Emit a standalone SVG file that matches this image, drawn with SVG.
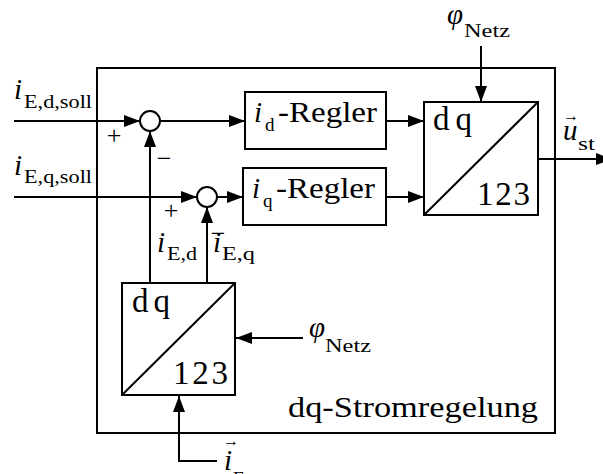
<svg xmlns="http://www.w3.org/2000/svg" width="603" height="474" viewBox="0 0 603 474">
<style>
  .ln { fill: none; stroke: #000; stroke-width: 2; }
  .bx { fill: #fff; stroke: #000; stroke-width: 2; }
  .ar { fill: none; stroke: #000; stroke-width: 2; marker-end: url(#ah); }
  text { font-family: "Liberation Serif", "DejaVu Serif", serif; fill: #000; }
  .m { font-size: 29px; }
  .it { font-style: italic; }
  .s { font-size: 19px; }
  .big { font-size: 33px; }
  .sg { font-size: 26px; }
  .vec { font-size: 16px; }
</style>
<defs>
  <marker id="ah" viewBox="0 0 16 12" refX="16" refY="6" markerWidth="16" markerHeight="12" markerUnits="userSpaceOnUse" orient="auto">
    <path d="M0,0 L16,6 L0,12 z" fill="#000"/>
  </marker>
</defs>
<rect width="603" height="474" fill="#fff"/>

<g id="frame">
  <rect x="97" y="68" width="458" height="365" class="ln"/>
  <text class="m" x="288" y="417" textLength="250" lengthAdjust="spacingAndGlyphs">dq-Stromregelung</text>
</g>

<g id="connectors">
  <path class="ar" d="M14,121 H140"/>
  <path class="ar" d="M14,197 H197"/>
  <path class="ar" d="M160,121 H245"/>
  <path class="ar" d="M217,197 H243"/>
  <path class="ar" d="M386,121 H424"/>
  <path class="ar" d="M386,197 H424"/>
  <path class="ar" d="M481,46 V102"/>
  <path class="ar" d="M538,159 H612"/>
  <path class="ar" d="M150,283 V131"/>
  <path class="ar" d="M207,283 V207"/>
  <path class="ar" d="M303,338 H236"/>
  <path class="ar" d="M217,461 H179 V396"/>
</g>

<g id="sum1">
  <circle cx="150" cy="121" r="10" class="bx"/>
  <text class="sg" x="114" y="144" text-anchor="middle">+</text>
  <text class="sg" x="164" y="167" text-anchor="middle">−</text>
</g>

<g id="sum2">
  <circle cx="207" cy="197" r="10" class="bx"/>
  <text class="sg" x="171" y="219" text-anchor="middle">+</text>
  <text class="sg" x="218" y="242" text-anchor="middle">−</text>
</g>

<g id="regler_d">
  <rect x="245" y="92" width="141" height="57" class="bx"/>
  <text class="m it" x="254" y="122">i</text>
  <text class="s" x="265" y="131">d</text>
  <text class="m" x="278" y="122" textLength="99" lengthAdjust="spacingAndGlyphs">-Regler</text>
</g>

<g id="regler_q">
  <rect x="243" y="168" width="143" height="57" class="bx"/>
  <text class="m it" x="252" y="198">i</text>
  <text class="s" x="263" y="207">q</text>
  <text class="m" x="276" y="198" textLength="99" lengthAdjust="spacingAndGlyphs">-Regler</text>
</g>

<g id="dq123_top">
  <rect x="424" y="102" width="114" height="113" class="bx"/>
  <path class="ln" d="M424,215 L538,102"/>
  <text class="big" x="433" y="130" textLength="39">dq</text>
  <text class="big" x="477" y="205" textLength="53">123</text>
</g>

<g id="dq123_bottom">
  <rect x="122" y="283" width="113" height="112" class="bx"/>
  <path class="ln" d="M122,395 L235,283"/>
  <text class="big" x="132" y="312" textLength="38">dq</text>
  <text class="big" x="173" y="384" textLength="55">123</text>
</g>

<g id="labels">
  <text class="m it" x="14" y="99">i</text>
  <text class="s" x="24" y="108" textLength="68" lengthAdjust="spacingAndGlyphs">E,d,soll</text>
  <text class="m it" x="14" y="175">i</text>
  <text class="s" x="24" y="183" textLength="68" lengthAdjust="spacingAndGlyphs">E,q,soll</text>

  <text class="m it" x="157" y="252">i</text>
  <text class="s" x="167" y="260" textLength="30" lengthAdjust="spacingAndGlyphs">E,d</text>
  <text class="m it" x="213" y="252">i</text>
  <text class="s" x="222" y="260" textLength="33" lengthAdjust="spacingAndGlyphs">E,q</text>

  <text class="m it" x="447" y="24">φ</text>
  <text class="s" x="464" y="37" textLength="46" lengthAdjust="spacingAndGlyphs">Netz</text>

  <text class="m it" x="309" y="337">φ</text>
  <text class="s" x="325" y="352" textLength="46" lengthAdjust="spacingAndGlyphs">Netz</text>

  <text class="vec" x="571" y="121" text-anchor="middle">→</text>
  <text class="m it" x="563" y="140">u</text>
  <text class="s" x="578" y="150" textLength="17" lengthAdjust="spacingAndGlyphs">st</text>

  <text class="vec" x="231" y="446" text-anchor="middle">→</text>
  <text class="m it" x="224" y="470">i</text>
  <text class="s" x="233" y="485">E</text>
</g>
</svg>
